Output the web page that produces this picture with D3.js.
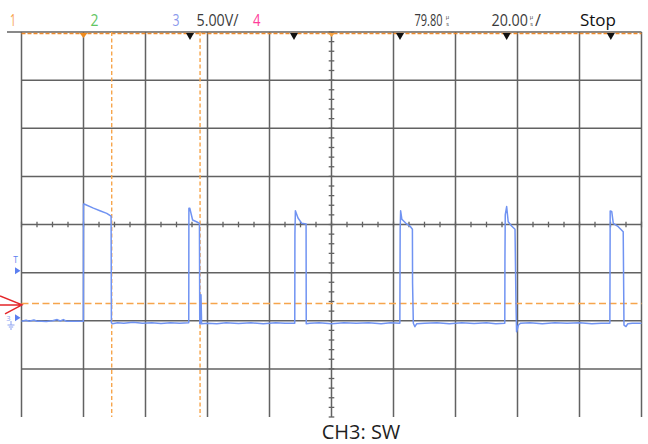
<!DOCTYPE html>
<html>
<head>
<meta charset="utf-8">
<script src="https://cdn.jsdelivr.net/npm/d3@7"></script>
<style>
  html, body { margin: 0; padding: 0; background: #fff; }
  svg { display: block; }
  text { font-family: "Open Sans", "Noto Sans", sans-serif; }
</style>
</head>
<body>
<svg id="scope" width="648" height="444"></svg>
<script>
// Screen setup: 20 µs/div horizontally, 5 V/div vertically (CH3)
const timeDomain = [0, 200];      // µs across 10 divisions
const voltDomain = [-10, 30];     // V across 8 divisions, CH3 ground at 0 V
const timeDivs = d3.range(0, 201, 20);
const voltDivs = d3.range(-5, 31, 5);

// CH3 switching node trace: time (µs) and voltage (V)
const traceT = [
  0, 1.5, 2.5, 4, 5, 6.5, 8, 10, 11.5, 12.5, 13.5, 14.5, 16, 18, 19.95,
  20.0, 20.2, 23.2, 25.3, 27.5, 28.9, 29.0, 29.3, 31, 33, 36, 39, 42, 45, 48, 51, 53.95,
  54.0, 54.3, 55.2, 56.6, 57.4, 57.5, 57.8, 57.9, 58.1, 60, 63, 66, 70, 74, 78, 82, 85, 88.15,
  88.2, 88.35, 89.2, 90.4, 91.8, 91.85, 93, 96, 100, 104, 108, 112, 116, 119, 122.05,
  122.15, 122.3, 122.7, 124.0, 125.3, 126.1, 126.15, 126.4, 126.9, 127.5, 130, 134, 138, 142, 146, 150, 153, 155.9,
  155.95, 156.05, 156.5, 157.0, 158.1, 159.2, 159.5, 159.7, 160.3, 161, 164, 168, 172, 176, 180, 184, 187, 189.8,
  189.9, 190.4, 190.9, 192.5, 194.1, 194.35, 195.0, 195.6, 197, 200
];
const traceV = [
  -0.05, 0.05, -0.05, 0.08, -0.05, -0.05, -0.08, 0.0, 0.12, -0.02, 0.12, -0.05, -0.05, -0.05, -0.05,
  12.1, 12.13, 11.7, 11.43, 11.16, 10.88, -0.2, -0.3, -0.2, -0.25, -0.15, -0.25, -0.2, -0.28, -0.2, -0.25, -0.22,
  11.7, 11.68, 10.47, 10.26, 10.12, -0.3, -0.3, 2.7, -0.3, -0.25, -0.3, -0.2, -0.28, -0.22, -0.3, -0.2, -0.25, -0.25,
  9.0, 11.43, 10.68, 10.12, 10.05, -0.3, -0.25, -0.22, -0.3, -0.2, -0.27, -0.22, -0.3, -0.2, -0.25,
  9.5, 11.43, 10.54, 10.12, 9.84, 9.5, 3.9, -0.26, -0.62, -0.3, -0.25, -0.2, -0.3, -0.22, -0.28, -0.2, -0.3, -0.25,
  6.5, 11.0, 11.87, 10.29, 9.84, 9.5, 2.0, -1.14, -0.44, -0.25, -0.22, -0.3, -0.2, -0.27, -0.22, -0.3, -0.25, -0.25,
  11.4, 11.35, 10.12, 9.77, 9.25, -0.45, -0.6, -0.3, -0.25, -0.25
];

// Markers on the top edge and cursors
const trigMarkTime = 20;                 // orange marker
const pulseMarkTimes = [54.35, 87.9, 122.1, 156.5, 190.1];
const posMarkTime = 100;                 // horizontal position marker
const cursorTimes = [29.1, 57.6];
const triggerLevel = 1.8;                // V

// Header labels
const headerLabels = [
  { text: "1", x: 10, w: 6, color: "#f7a04a" },
  { text: "2", x: 90.5, w: 8, color: "#62c562" },
  { text: "3", x: 172.5, w: 7, color: "#8a98ec" },
  { text: "5.00V/", x: 196.5, w: 42, color: "#3a3a3a" },
  { text: "4", x: 253, w: 7.5, color: "#ff3c9a" },
  { text: "79.80", x: 414.5, w: 28, color: "#3a3a3a", unit: 447.5 },
  { text: "20.00", x: 491.5, w: 36.5, color: "#3a3a3a", unit: 531.5, slash: 535 },
  { text: "Stop", x: 580, w: 36, color: "#111", size: 16 }
];
const caption = "CH3: SW";

const svg = d3.select("#scope");
const x = d3.scaleLinear().domain(timeDomain).range([21.5, 641.5]);
const y = d3.scaleLinear().domain(voltDomain).range([417, 32]);

svg.append("rect").attr("width", 648).attr("height", 444).attr("fill", "#fff");

const gridColor = "#626262";
const grid = svg.append("g");

// Horizontal division lines (no bottom border)
grid.selectAll("line.h").data(voltDivs).join("line")
  .attr("x1", d => d === voltDomain[1] ? 7 : x(timeDomain[0]))
  .attr("x2", x(timeDomain[1]))
  .attr("y1", d => y(d)).attr("y2", d => y(d))
  .attr("stroke", gridColor).attr("stroke-width", 1.5);

// Vertical division lines
grid.selectAll("line.v").data(timeDivs).join("line")
  .attr("x1", d => x(d)).attr("x2", d => x(d))
  .attr("y1", y(voltDomain[1])).attr("y2", y(voltDomain[0]))
  .attr("stroke", gridColor).attr("stroke-width", 1.5);

// Minor ticks on the centre axes
const hTicks = d3.range(0, 200.01, 5);
grid.selectAll("line.ht").data(hTicks).join("line")
  .attr("x1", d => x(d)).attr("x2", d => x(d))
  .attr("y1", y(10) - 2.8).attr("y2", y(10) + 2.8)
  .attr("stroke", gridColor).attr("stroke-width", 1.3);
const vTicks = d3.range(-10, 30.01, 1);
grid.selectAll("line.vt").data(vTicks).join("line")
  .attr("x1", x(100) - 2.8).attr("x2", x(100) + 2.8)
  .attr("y1", d => y(d)).attr("y2", d => y(d))
  .attr("stroke", gridColor).attr("stroke-width", 1.3);

// Orange dashed cursors and trigger level
const orange = "#f6a54c";
svg.append("line")
  .attr("x1", x(0)).attr("x2", x(200))
  .attr("y1", y(30) + 1.5).attr("y2", y(30) + 1.5)
  .attr("stroke", "#ef8a2a").attr("stroke-width", 1.4)
  .attr("stroke-dasharray", "4,2");
svg.selectAll("line.cur").data(cursorTimes).join("line")
  .attr("x1", d => x(d)).attr("x2", d => x(d))
  .attr("y1", y(30)).attr("y2", y(-10))
  .attr("stroke", orange).attr("stroke-width", 1.4)
  .attr("stroke-dasharray", "4,2.5");
svg.append("line")
  .attr("x1", x(0)).attr("x2", x(200))
  .attr("y1", y(triggerLevel)).attr("y2", y(triggerLevel))
  .attr("stroke", orange).attr("stroke-width", 1.5)
  .attr("stroke-dasharray", "7,3.5");

// Trace
const pts = traceT.map((t, i) => [t, traceV[i]]);
svg.append("path")
  .datum(pts)
  .attr("fill", "none")
  .attr("stroke", "#7093f2")
  .attr("stroke-width", 1.5)
  .attr("stroke-linejoin", "round")
  .attr("d", d3.line().x(d => x(d[0])).y(d => y(d[1])));

// Top edge markers
const topY = y(30);
svg.selectAll("path.pm").data(pulseMarkTimes).join("path")
  .attr("d", d => `M${x(d) - 4},${topY + 1} L${x(d) + 4},${topY + 1} L${x(d)},${topY + 8} Z`)
  .attr("fill", "#111");
svg.append("path")
  .attr("d", `M${x(trigMarkTime) - 4},${topY + 1} L${x(trigMarkTime) + 4},${topY + 1} L${x(trigMarkTime)},${topY + 6} Z`)
  .attr("fill", "#f08c1e");
svg.append("path")
  .attr("d", `M${x(posMarkTime) - 3.5},${topY + 1} L${x(posMarkTime) + 3.5},${topY + 1} L${x(posMarkTime)},${topY + 5} Z`)
  .attr("fill", "#f5a040");

// Left edge: trigger marker, trigger level arrow, CH3 ground marker
const blue = "#5b7ff0";
svg.append("text").attr("x", 15.5).attr("y", 262.5)
  .attr("text-anchor", "middle").attr("font-size", 8.5).attr("fill", blue).text("T");
svg.append("path")
  .attr("d", `M15,${y(5.2) - 3.5} L20.5,${y(5.2)} L15,${y(5.2) + 3.5} Z`)
  .attr("fill", blue);
const red = "#e4262a";
const ay = y(triggerLevel) + 1.5;
svg.append("path")
  .attr("d", `M0,${ay - 9} L22,${ay} L5,${ay + 9} M0,${ay} L22,${ay}`)
  .attr("fill", "none").attr("stroke", red).attr("stroke-width", 1.5);
svg.append("text").attr("x", 8.5).attr("y", 321)
  .attr("text-anchor", "middle").attr("font-size", 7.5).attr("fill", "#8aa0f0").text("3");
svg.append("path")
  .attr("d", "M11,321 L11,325 M7.5,325 L14.5,325 M8.8,327 L13.2,327 M10,329 L12,329")
  .attr("fill", "none").attr("stroke", "#8aa0f0").attr("stroke-width", 1);
svg.append("path")
  .attr("d", `M15,${y(0.3) - 3.5} L20.5,${y(0.3)} L15,${y(0.3) + 3.5} Z`)
  .attr("fill", blue);

// Header: narrow scope font, squeezed horizontally to each label's width
const header = svg.append("g");
headerLabels.forEach(l => {
  const t = header.append("text")
    .attr("x", 0).attr("y", 0)
    .attr("font-size", l.size || 17).attr("fill", l.color)
    .text(l.text);
  const natural = t.node().getComputedTextLength();
  t.attr("transform", `translate(${l.x},26) scale(${l.w / natural},1)`);
  if (l.unit) {
    // stacked "µ over s" unit glyph
    header.append("text").attr("x", l.unit).attr("y", 18.5)
      .attr("text-anchor", "middle").attr("font-size", 5.5).attr("fill", l.color).text("µ");
    header.append("text").attr("x", l.unit).attr("y", 26.3)
      .attr("text-anchor", "middle").attr("font-size", 5.5).attr("fill", l.color).text("s");
  }
  if (l.slash) {
    header.append("text").attr("x", l.slash).attr("y", 26)
      .attr("font-size", 16).attr("fill", l.color).text("/");
  }
});

// Caption
svg.append("text")
  .attr("x", 361).attr("y", 439)
  .attr("text-anchor", "middle")
  .attr("font-size", 20).attr("fill", "#1e1e1e")
  .text(caption);
</script>
</body>
</html>
